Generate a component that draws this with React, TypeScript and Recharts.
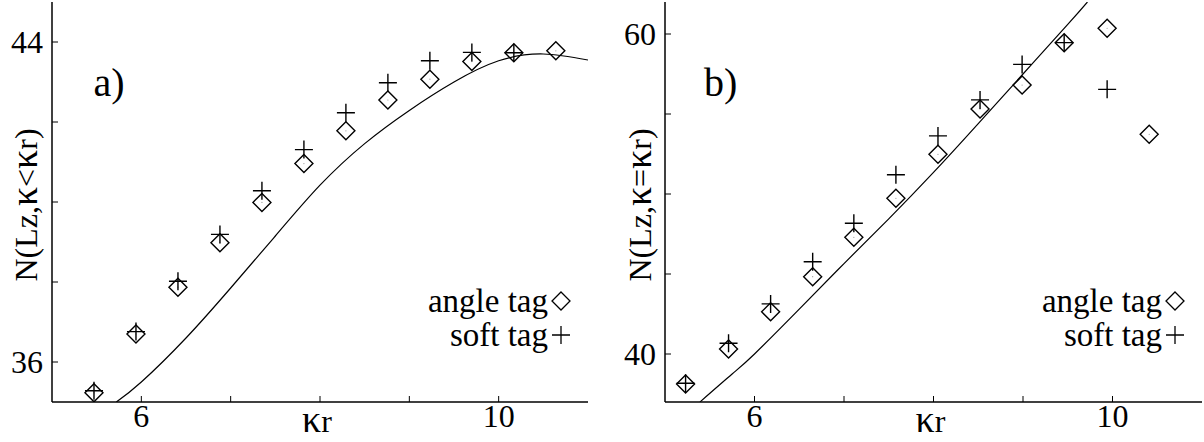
import { ComposedChart, Line, Scatter, XAxis, YAxis, Legend, Label } from "recharts";

const FONT = "Liberation Serif, Tinos, DejaVu Serif, Noto Serif, FreeSerif, Times New Roman, serif";

// panel a) N(Lz, κ<κr)
const KR_A = [5.47, 5.94, 6.41, 6.88, 7.35, 7.82, 8.29, 8.76, 9.23, 9.7, 10.17, 10.64];
const ANGLE_A = [35.23, 36.7, 37.87, 38.98, 39.99, 40.96, 41.78, 42.55, 43.07, 43.51, 43.73, 43.78];
const SOFT_A = [35.28, 36.76, 38.02, 39.19, 40.28, 41.31, 42.23, 42.98, 43.53, 43.74, 43.73, null];
const CURVE_X_A = [5.72, 6.0, 6.5, 7.0, 7.5, 8.0, 8.5, 9.0, 9.5, 10.0, 10.5, 11.0];
const CURVE_Y_A = [35.0, 35.5, 36.6, 37.85, 39.15, 40.42, 41.46, 42.29, 43.0, 43.53, 43.7, 43.55];
const Y_TICKS_A = [36, 38, 40, 42, 44];

// panel b) N(Lz, κ=κr)
const KR_B = [5.23, 5.71, 6.18, 6.65, 7.11, 7.58, 8.05, 8.52, 8.99, 9.46, 9.94, 10.41];
const ANGLE_B = [38.13, 40.31, 42.64, 44.83, 47.29, 49.73, 52.48, 55.31, 56.81, 59.46, 60.36, 53.73];
const SOFT_B = [38.17, 40.67, 43.13, 45.77, 48.17, 51.2, 53.63, 55.88, 58.1, 59.46, 56.54, null];
const CURVE_X_B = [5.39, 5.75, 6.0, 6.5, 7.0, 7.5, 8.0, 8.5, 9.0, 9.5, 9.72];
const CURVE_Y_B = [37.0, 38.75, 40.0, 42.8, 45.65, 48.45, 51.35, 54.4, 57.5, 60.6, 62.0];
const Y_TICKS_B = [40, 45, 50, 55, 60];

const X_TICKS = [6, 7, 8, 9, 10];
const X_LABELED = [6, 10];

const points = (xs: number[], ys: (number | null)[]) =>
    xs.map((x, i) => ({ x, y: ys[i] })).filter((d) => d.y !== null);

const Diamond = (props: any) => {
    const { cx, cy } = props;
    if (cx == null || cy == null) return null;
    const s = 9;
    return (
        <g>
            <path
                d={`M${cx},${cy - s}L${cx + s},${cy}L${cx},${cy + s}L${cx - s},${cy}Z`}
                fill="none"
                stroke="#000"
                strokeWidth={1.4}
            />
            <circle cx={cx} cy={cy} r={0.6} fill="#999" />
        </g>
    );
};

const Plus = (props: any) => {
    const { cx, cy } = props;
    if (cx == null || cy == null) return null;
    const s = 9;
    return (
        <path
            d={`M${cx - s},${cy}H${cx + s}M${cx},${cy - s}V${cy + s}`}
            stroke="#000"
            strokeWidth={1.4}
            fill="none"
        />
    );
};

const LegendBox = () => (
    <div style={{ fontFamily: FONT, fontSize: 33, lineHeight: "34px", color: "#000" }}>
        {[
            { label: "angle tag", diamond: true },
            { label: "soft tag", diamond: false },
        ].map((row) => (
            <div key={row.label} style={{ display: "flex", justifyContent: "flex-end", alignItems: "baseline" }}>
                <span>{row.label}</span>
                <svg width={20} height={22} style={{ marginLeft: 3 }}>
                    {row.diamond ? (
                        <path d="M10,2L19,11L10,20L1,11Z" fill="none" stroke="#000" strokeWidth={1.3} />
                    ) : (
                        <path d="M1,11H19M10,2V20" fill="none" stroke="#000" strokeWidth={1.3} />
                    )}
                </svg>
            </div>
        ))}
    </div>
);

const XLabel = ({ viewBox }: any) => {
    const { x, y, width, height } = viewBox;
    return (
        <text x={x + width / 2 - 3} y={y + height - 10} textAnchor="middle" fontFamily={FONT} fontSize={32} fill="#000">
            <tspan fontSize={38}>κ</tspan>r
        </text>
    );
};

const makeYLabel = (rel: string) => ({ viewBox }: any) => {
    const cx = viewBox.x + 37;
    const cy = viewBox.y + viewBox.height / 2 + 3;
    return (
        <text
            x={cx}
            y={cy}
            transform={`rotate(-90 ${cx} ${cy})`}
            textAnchor="middle"
            fontFamily={FONT}
            fontSize={32}
            fill="#000"
        >
            N(Lz,<tspan fontSize={38}>κ</tspan>
            {rel}
            <tspan fontSize={38}>κ</tspan>r)
        </text>
    );
};

type PanelProps = {
    left: number;
    width: number;
    yAxisWidth: number;
    marginRight: number;
    legendRight: number;
    tag: string;
    tagLeft: number;
    rel: string;
    yDomain: [number, number];
    yTicks: number[];
    angle: { x: number; y: number | null }[];
    soft: { x: number; y: number | null }[];
    curve: { x: number; y: number | null }[];
};

function Panel(p: PanelProps) {
    const tickStyle = { fill: "#000", fontSize: 32, fontFamily: FONT };
    const yLabeled = [p.yTicks[0], p.yTicks[p.yTicks.length - 1]];
    return (
        <div style={{ position: "absolute", left: p.left, top: 0, width: p.width, height: 442 }}>
            <ComposedChart
                width={p.width}
                height={442}
                margin={{ top: 2, right: p.marginRight, bottom: 0, left: 0 }}
            >
                <XAxis
                    xAxisId="b"
                    dataKey="x"
                    type="number"
                    domain={[5, 11]}
                    ticks={X_TICKS}
                    interval={0}
                    allowDataOverflow
                    height={40}
                    tickSize={-6}
                    tickMargin={8}
                    tick={tickStyle}
                    tickFormatter={(v: number) => (X_LABELED.includes(v) ? String(v) : "")}
                    axisLine={{ stroke: "#000", strokeWidth: 1.5 }}
                    tickLine={{ stroke: "#000", strokeWidth: 1 }}
                >
                    <Label content={XLabel} />
                </XAxis>
                <XAxis
                    xAxisId="t"
                    orientation="top"
                    dataKey="x"
                    type="number"
                    domain={[5, 11]}
                    ticks={X_TICKS}
                    interval={0}
                    height={0}
                    tickSize={-6}
                    tickFormatter={() => ""}
                    axisLine={{ stroke: "#000", strokeWidth: 1.5 }}
                    tickLine={{ stroke: "#000", strokeWidth: 1 }}
                />
                <YAxis
                    yAxisId="l"
                    type="number"
                    domain={p.yDomain}
                    ticks={p.yTicks}
                    interval={0}
                    allowDataOverflow
                    width={p.yAxisWidth}
                    tickSize={-6}
                    tickMargin={15}
                    tick={tickStyle}
                    tickFormatter={(v: number) => (yLabeled.includes(v) ? String(v) : "")}
                    axisLine={{ stroke: "#000", strokeWidth: 1.5 }}
                    tickLine={{ stroke: "#000", strokeWidth: 1 }}
                >
                    <Label content={makeYLabel(p.rel)} />
                </YAxis>
                <YAxis
                    yAxisId="r"
                    orientation="right"
                    type="number"
                    domain={p.yDomain}
                    ticks={p.yTicks}
                    interval={0}
                    width={0}
                    tickSize={-6}
                    tickFormatter={() => ""}
                    axisLine={{ stroke: "#000", strokeWidth: 1.5 }}
                    tickLine={{ stroke: "#000", strokeWidth: 1 }}
                />
                <Legend
                    layout="horizontal"
                    verticalAlign="middle"
                    align="center"
                    wrapperStyle={{ left: "auto", right: p.legendRight, top: 284, width: "auto", height: "auto" }}
                    content={LegendBox}
                />
                <Line
                    xAxisId="b"
                    yAxisId="l"
                    data={p.curve}
                    dataKey="y"
                    type="natural"
                    stroke="#000"
                    strokeWidth={1.2}
                    dot={false}
                    activeDot={false}
                    legendType="none"
                    isAnimationActive={false}
                />
                <Scatter
                    xAxisId="b"
                    yAxisId="l"
                    name="angle tag"
                    data={p.angle}
                    dataKey="y"
                    shape={Diamond}
                    isAnimationActive={false}
                />
                <Scatter
                    xAxisId="b"
                    yAxisId="l"
                    name="soft tag"
                    data={p.soft}
                    dataKey="y"
                    shape={Plus}
                    isAnimationActive={false}
                />
            </ComposedChart>
            <div
                style={{
                    position: "absolute",
                    left: p.tagLeft,
                    top: 62,
                    fontFamily: FONT,
                    fontSize: 40,
                    lineHeight: "42px",
                    color: "#000",
                }}
            >
                {p.tag}
            </div>
        </div>
    );
}

export default function App() {
    return (
        <div style={{ position: "absolute", left: 0, top: 0, width: 1204, height: 442, background: "#fff" }}>
            <Panel
                left={0}
                width={600}
                yAxisWidth={52}
                marginRight={12}
                legendRight={29}
                tag="a)"
                tagLeft={93.5}
                rel="<"
                yDomain={[35, 45]}
                yTicks={Y_TICKS_A}
                angle={points(KR_A, ANGLE_A)}
                soft={points(KR_A, SOFT_A)}
                curve={points(CURVE_X_A, CURVE_Y_A)}
            />
            <Panel
                left={614}
                width={590}
                yAxisWidth={51}
                marginRight={2}
                legendRight={19}
                tag="b)"
                tagLeft={90}
                rel="="
                yDomain={[37, 62]}
                yTicks={Y_TICKS_B}
                angle={points(KR_B, ANGLE_B)}
                soft={points(KR_B, SOFT_B)}
                curve={points(CURVE_X_B, CURVE_Y_B)}
            />
        </div>
    );
}
